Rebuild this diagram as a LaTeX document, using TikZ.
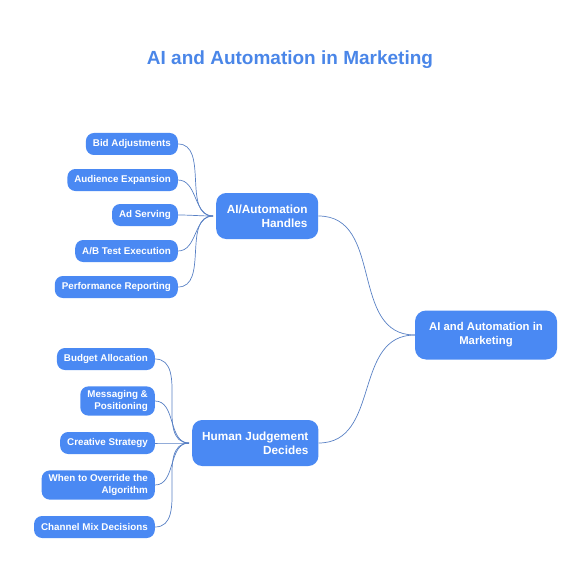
\documentclass[tikz,border=0pt]{standalone}
\usepackage{fontspec}
\setmainfont{Liberation Sans}
\usepackage{tikz}

\definecolor{mapblue}{RGB}{74,137,243}
\definecolor{titleblue}{RGB}{74,134,232}
\definecolor{linkblue}{RGB}{88,128,196}

\tikzset{
  leaf/.style={fill=mapblue,text=white,font=\bfseries\fontsize{9.8}{12}\selectfont,
    rounded corners=8pt,anchor=east,align=right,inner xsep=7pt,inner ysep=4pt,minimum height=22pt},
  branch/.style={fill=mapblue,text=white,font=\bfseries\fontsize{11.8}{14}\selectfont,
    rounded corners=10pt,anchor=west,align=right,inner xsep=10pt,minimum height=46pt},
  link/.style={draw=linkblue,line width=0.7pt}
}

\begin{document}
\begin{tikzpicture}[x=1pt,y=-1pt]
    \useasboundingbox (0,0) rectangle (582,588);

    % title
    \node[text=titleblue,font=\bfseries\fontsize{19}{22}\selectfont] (title) at (290,60) {AI and Automation in Marketing};

    % root
    \node[fill=mapblue,text=white,font=\bfseries\fontsize{11.3}{14}\selectfont,rounded corners=11pt,
      align=center,minimum width=142pt,minimum height=49pt] (root) at (486,335) {AI and Automation in\\Marketing};

    % branches
    \node[branch,minimum width=102pt] (auto) at (216,216) {AI/Automation\\Handles};
    \node[branch,minimum width=126pt] (human) at (192,443) {Human Judgement\\Decides};

    % leaves of the automation branch
    \node[leaf] (bid) at (178,144) {Bid Adjustments};
    \node[leaf] (audience) at (178,180) {Audience Expansion};
    \node[leaf] (serving) at (178,215) {Ad Serving};
    \node[leaf] (abtest) at (178,251) {A/B Test Execution};
    \node[leaf] (reporting) at (178,287) {Performance Reporting};

    % leaves of the human branch
    \node[leaf] (budget) at (155,359) {Budget Allocation};
    \node[leaf] (messaging) at (155,401) {Messaging \&\\Positioning};
    \node[leaf] (creative) at (155,443) {Creative Strategy};
    \node[leaf] (override) at (155,485) {When to Override the\\Algorithm};
    \node[leaf] (channel) at (155,527) {Channel Mix Decisions};

    % links
    \draw[link] (auto.east) to[out=0,in=180,looseness=1.1] (root.west);
    \draw[link] (human.east) to[out=0,in=180,looseness=1.1] (root.west);
    \foreach \n in {bid,audience,serving,abtest,reporting}
        \draw[link] (\n.east) to[out=0,in=180] ([xshift=-3pt]auto.west);
    \foreach \n in {budget,messaging,creative,override,channel}
        \draw[link] (\n.east) to[out=0,in=180] ([xshift=-3pt]human.west);
\end{tikzpicture}
\end{document}
